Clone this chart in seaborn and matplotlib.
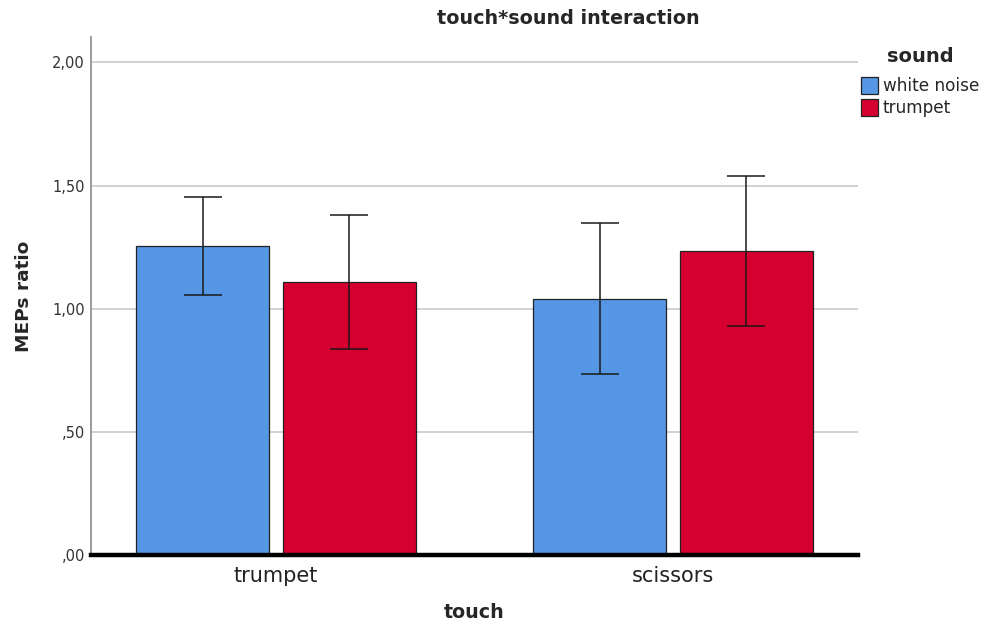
import matplotlib
matplotlib.use("Agg")
import matplotlib.pyplot as plt
import seaborn as sns
import pandas as pd
import numpy as np

# ---- data ----
touch = ["trumpet", "scissors"]
sound = ["white noise", "trumpet"]
mean_white_noise = [1.253, 1.041]
mean_trumpet = [1.108, 1.235]
lower_white_noise = [1.057, 0.733]
upper_white_noise = [1.452, 1.347]
lower_trumpet = [0.836, 0.931]
upper_trumpet = [1.379, 1.539]
ytick_values = [0.0, 0.5, 1.0, 1.5, 2.0]
ytick_labels = [",00", ",50", "1,00", "1,50", "2,00"]

rows = []
for i, t in enumerate(touch):
    rows.append({"touch": t, "sound": sound[0], "MEPs ratio": mean_white_noise[i],
                 "lo": lower_white_noise[i], "hi": upper_white_noise[i]})
    rows.append({"touch": t, "sound": sound[1], "MEPs ratio": mean_trumpet[i],
                 "lo": lower_trumpet[i], "hi": upper_trumpet[i]})
df = pd.DataFrame(rows)

sns.set_theme(style="white")
plt.rcParams["font.family"] = ["DejaVu Sans"]

fig = plt.figure(figsize=(9.84, 6.32), dpi=100)
ax = fig.add_axes([91/984, 1-555/632, (858-91)/984, (555-37)/632])

palette = {"white noise": "#5596E5", "trumpet": "#D5002F"}
sns.barplot(data=df, x="touch", y="MEPs ratio", hue="sound", order=touch,
            hue_order=sound, palette=palette, errorbar=None, width=0.74, gap=0.1,
            edgecolor="#222222", linewidth=0.9, saturation=1, ax=ax, zorder=2)

# error bars at the bar centres produced by seaborn
for j, s in enumerate(sound):
    cont = ax.containers[j]
    for i, t in enumerate(touch):
        p = cont.patches[i]
        xc = p.get_x() + p.get_width()/2
        r = df[(df.touch == t) & (df.sound == s)].iloc[0]
        m = r["MEPs ratio"]
        ax.errorbar([xc], [m], yerr=[[m - r["lo"]], [r["hi"] - m]], fmt="none",
                    ecolor="#1a1a1a", elinewidth=1.1, capsize=13.5, capthick=1.1,
                    zorder=3)

ax.set_xlim(-0.466, 1.466)
ax.set_ylim(0, 2.103)
ax.set_yticks(ytick_values)
ax.set_yticklabels(ytick_labels)
ax.yaxis.grid(True, color="#cfcfcf", linewidth=1.3, zorder=0)
ax.set_axisbelow(True)

for sp in ["top", "right"]:
    ax.spines[sp].set_visible(False)
ax.spines["left"].set_color("#8a8a8a")
ax.spines["left"].set_linewidth(1.2)
ax.spines["bottom"].set_color("black")
ax.spines["bottom"].set_linewidth(3.2)
ax.spines["bottom"].set_zorder(5)

ax.tick_params(axis="y", length=3, color="#8a8a8a", labelsize=10.5, labelcolor="#333333", pad=1.5)
ax.tick_params(axis="x", length=0, labelsize=15, labelcolor="#222222", pad=8)

ax.set_xlabel("touch", fontsize=13.7, fontweight="bold", labelpad=12)
ax.set_ylabel("MEPs ratio", fontsize=13.3, fontweight="bold", labelpad=14)

fig.text(568/984, 1-19/632, "touch*sound interaction", ha="center", va="center",
         fontsize=13.8, fontweight="bold")

leg = ax.legend(title="sound", loc="upper left", bbox_to_anchor=(854/984, 1-40/632),
                bbox_transform=fig.transFigure, frameon=False, fontsize=12.2,
                title_fontsize=14, handlelength=1.0, handleheight=1.2,
                handletextpad=0.3, labelspacing=0.2, borderaxespad=0)
leg.get_title().set_fontweight("bold")
leg._legend_box.align = "center"
leg._legend_box.sep = 8

fig.savefig("out.png", dpi=100)
